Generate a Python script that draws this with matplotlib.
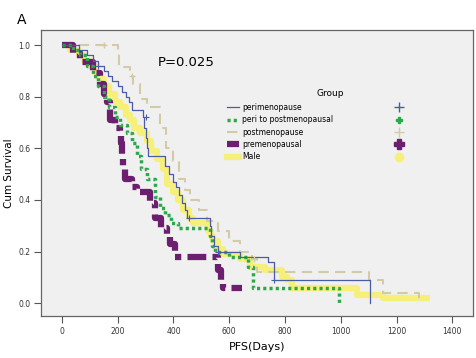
import numpy as np
import matplotlib
matplotlib.use("Agg")
import matplotlib.pyplot as plt
from matplotlib.lines import Line2D

# survival curves (days, cumulative survival)
peri_t = [0, 60, 90, 110, 130, 150, 165, 180, 200, 215, 230, 240, 250, 290, 295, 300, 305, 310,
          370, 385, 400, 410, 420, 430, 440, 450, 530, 535, 545, 560, 640, 740, 760, 1105]
peri_s = [1.0, 0.98, 0.96, 0.94, 0.92, 0.90, 0.88, 0.86, 0.84, 0.82, 0.80, 0.78, 0.75, 0.72, 0.68, 0.64, 0.60, 0.57,
          0.53, 0.50, 0.47, 0.45, 0.42, 0.39, 0.36, 0.33, 0.30, 0.26, 0.22, 0.20, 0.18, 0.16, 0.09, 0.0]

p2p_t = [0, 40, 65, 90, 110, 130, 150, 170, 190, 210, 233, 250, 268, 285, 305, 334, 350, 370, 390,
         416, 531, 540, 550, 600, 668, 686, 995]
p2p_s = [1.0, 0.98, 0.96, 0.92, 0.88, 0.84, 0.80, 0.76, 0.72, 0.69, 0.66, 0.62, 0.57, 0.52, 0.48, 0.41, 0.37, 0.34, 0.31,
         0.29, 0.26, 0.22, 0.20, 0.18, 0.14, 0.06, 0.0]

post_t = [0, 200, 205, 245, 255, 280, 305, 350, 375, 400, 420, 440, 460, 490, 520, 560, 600, 640, 680,
          700, 1100, 1150, 1280]
post_s = [1.0, 0.98, 0.915, 0.88, 0.85, 0.79, 0.76, 0.68, 0.60, 0.55, 0.48, 0.44, 0.40, 0.36, 0.32, 0.28, 0.24, 0.20, 0.17,
          0.12, 0.09, 0.04, 0.01]

pre_t = [0, 40, 65, 110, 136, 150, 160, 172, 190, 208, 212, 215, 220, 226, 251, 270, 316, 334, 355,
         377, 388, 405, 560, 570, 578, 646]
pre_s = [1.0, 0.97, 0.935, 0.89, 0.85, 0.81, 0.78, 0.71, 0.68, 0.66, 0.62, 0.57, 0.52, 0.48, 0.45, 0.43, 0.39, 0.33, 0.29,
         0.26, 0.23, 0.18, 0.13, 0.09, 0.06, 0.06]

male_t = [0, 30, 60, 80, 100, 120, 136, 150, 170, 190, 210, 230, 244, 260, 280, 305, 320, 340, 362,
          377, 398, 415, 434, 455, 470, 524, 535, 542, 560, 578, 639, 675, 729, 790, 808, 826, 1059, 1150, 1320]
male_s = [1.0, 0.98, 0.96, 0.94, 0.92, 0.89, 0.87, 0.84, 0.81, 0.78, 0.76, 0.73, 0.71, 0.68, 0.66, 0.63, 0.59, 0.56, 0.52,
          0.46, 0.43, 0.40, 0.36, 0.33, 0.31, 0.28, 0.26, 0.24, 0.21, 0.19, 0.17, 0.14, 0.13, 0.10, 0.09, 0.06, 0.03, 0.02, 0.02]

# a few censored cases visible as small "+" ticks
peri_cens_t = [130, 300, 455, 560, 760]
peri_cens_s = [0.92, 0.72, 0.33, 0.20, 0.09]
post_cens_t = [150, 250, 690]
post_cens_s = [1.0, 0.88, 0.17]

labels = ["perimenopause", "peri to postmenopausal", "postmenopause", "premenopausal", "Male"]
x_ticks = [0, 200, 400, 600, 800, 1000, 1200, 1400]
y_ticks = [0.0, 0.2, 0.4, 0.6, 0.8, 1.0]

c_peri = '#4a5ca6'
c_p2p = '#2ca84a'
c_post = '#d3caa6'
c_pre = '#6c1f6f'
c_male = '#f6f07a'

green_ls = (0, (0.9, 0.9))

fig = plt.figure(figsize=(4.77, 3.58), dpi=100)
ax = fig.add_axes([0.086, 0.117, 0.906, 0.799])
ax.set_facecolor('#f0f0f0')

ax.step(male_t, male_s, where='post', color=c_male, lw=4.5, solid_capstyle='butt')
ax.step(post_t, post_s, where='post', color=c_post, lw=1.5, linestyle=(0, (5, 3)))
ax.step(pre_t, pre_s, where='post', color=c_pre, lw=4.5, linestyle=(0, (3, 1, 1, 1)))
ax.step(p2p_t, p2p_s, where='post', color=c_p2p, lw=2.5, linestyle=green_ls, dash_capstyle='butt')
ax.step(peri_t, peri_s, where='post', color=c_peri, lw=0.9)
ax.plot(peri_cens_t, peri_cens_s, '+', color=c_peri, ms=5, mew=0.8)
ax.plot(post_cens_t, post_cens_s, '+', color=c_post, ms=5, mew=1.0)

ax.set_xlim(-75, 1475)
ax.set_ylim(-0.05, 1.058)
ax.set_xticks(x_ticks)
ax.set_yticks(y_ticks)
ax.set_yticklabels([f"{v:.1f}" for v in y_ticks])
ax.tick_params(labelsize=5.5, length=5, width=0.8, color='#555555', labelcolor='#333333', pad=2.5)
for side in ['left', 'bottom', 'right', 'top']:
    ax.spines[side].set_color('#666666')
    ax.spines[side].set_linewidth(0.9)

ax.set_xlabel("PFS(Days)", fontsize=8, labelpad=5)
ax.set_ylabel("Cum Survival", fontsize=7.5, labelpad=3)
ax.text(0.27, 0.875, "P=0.025", transform=ax.transAxes, fontsize=9.5)
fig.text(0.035, 0.965, "A", fontsize=10, va='top')
ax.text(0.67, 0.77, "Group", transform=ax.transAxes, fontsize=6.5, ha='center')

handles = [
    Line2D([], [], color=c_peri, lw=0.9),
    Line2D([], [], color=c_p2p, lw=2.5, linestyle=green_ls),
    Line2D([], [], color=c_post, lw=1.5, linestyle=(0, (5, 3))),
    Line2D([], [], color=c_pre, lw=4.5, linestyle=(0, (3, 1, 1, 1))),
    Line2D([], [], color=c_male, lw=4.5),
    Line2D([], [], color=c_peri, marker='+', ms=7, lw=0),
    Line2D([], [], color=c_p2p, marker='P', ms=5, lw=0),
    Line2D([], [], color=c_post, marker='+', ms=7, lw=0),
    Line2D([], [], color=c_pre, marker='P', ms=7, lw=0),
    Line2D([], [], color=c_male, marker='o', ms=6, lw=0),
]
leg = ax.legend(handles, labels + [''] * 5, ncol=2, loc='upper left',
                bbox_to_anchor=(0.415, 0.77), frameon=False, fontsize=5.5,
                handlelength=1.6, handletextpad=0.3, columnspacing=7.8,
                labelspacing=0.45)

fig.savefig("out.png", dpi=100)
